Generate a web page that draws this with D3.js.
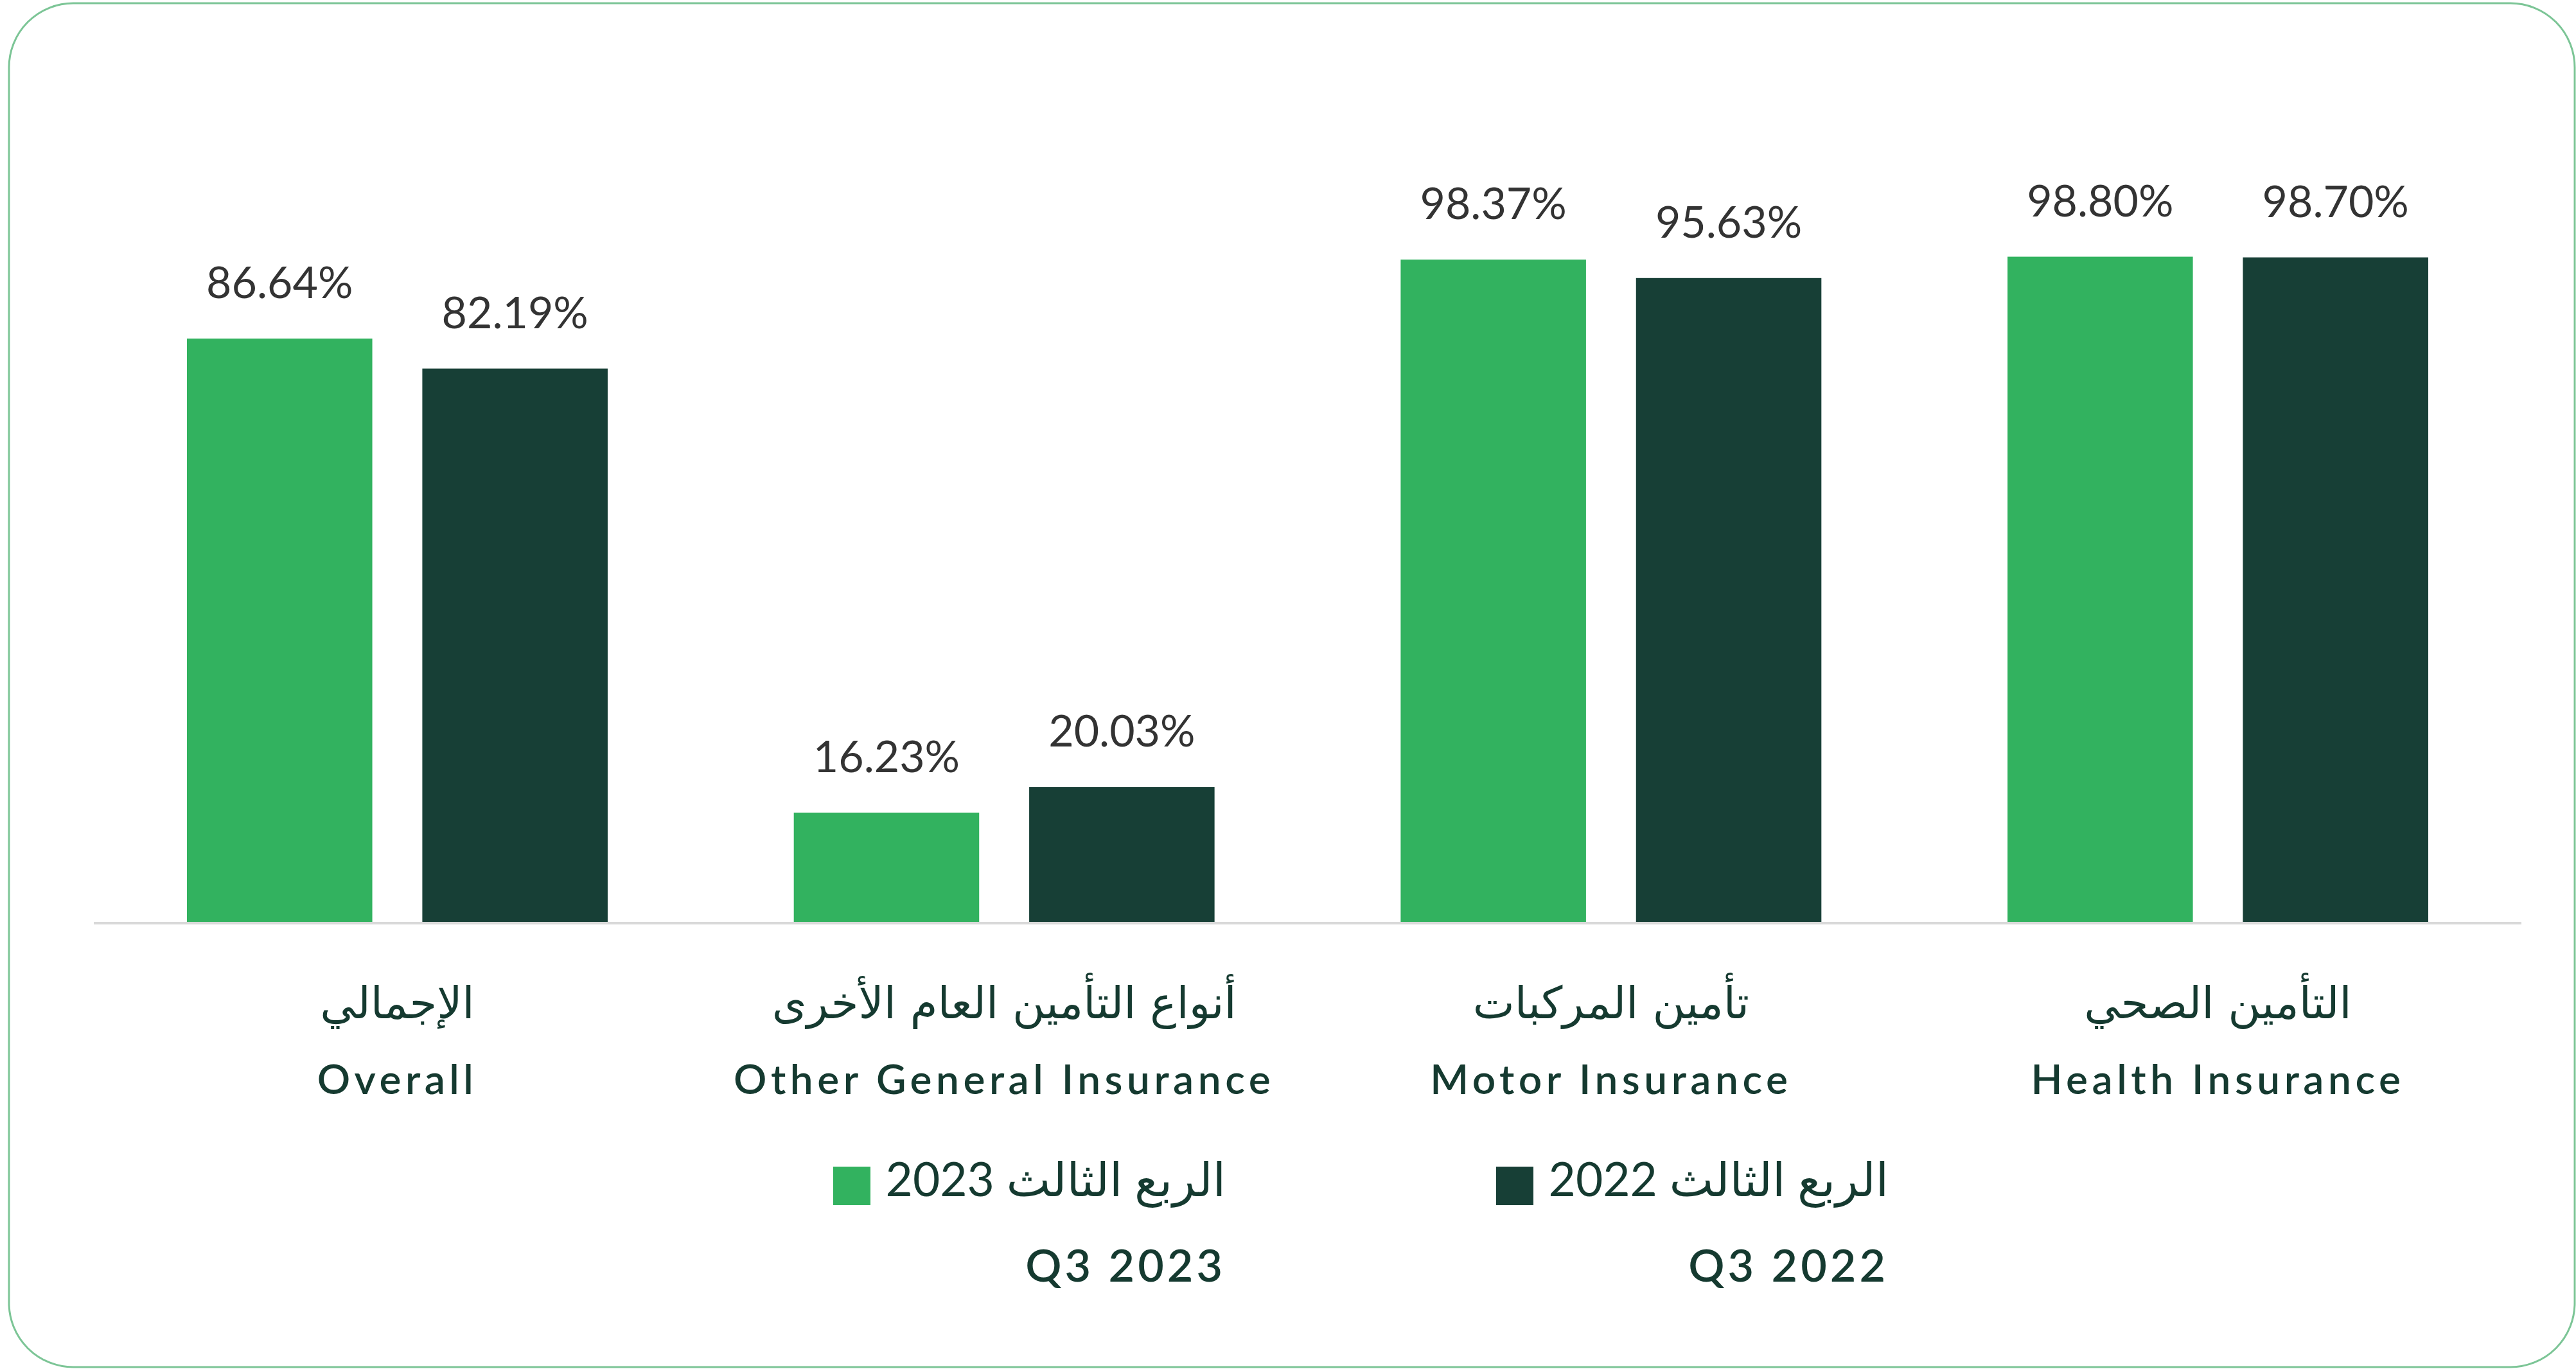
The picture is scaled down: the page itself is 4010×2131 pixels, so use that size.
<!DOCTYPE html>
<html><head><meta charset="utf-8">
<script src="https://cdn.jsdelivr.net/npm/d3@7"></script>
<style>html,body{margin:0;padding:0;background:#fff;} svg{display:block;}</style>
</head><body><svg id="chart" width="4010" height="2131"></svg>
<script>
// ---- data ----
const categoriesEn = ["Overall", "Other General Insurance", "Motor Insurance", "Health Insurance"];
const categoriesAr = ["الإجمالي", "أنواع التأمين العام الأخرى", "تأمين المركبات", "التأمين الصحي"];
const seriesKeys = ["Q3 2023", "Q3 2022"];
const seriesAr = ["الربع الثالث 2023", "الربع الثالث 2022"];
const q3_2023 = [86.64, 16.23, 98.37, 98.80];
const q3_2022 = [82.19, 20.03, 95.63, 98.70];

// ---- style ----
const colors = {"Q3 2023": "#32b25f", "Q3 2022": "#173f36"};
const labelColor = "#153a30";
const valueColor = "#333333";
const latin = "Lato, 'DejaVu Sans', sans-serif";
const arabic = "'DejaVu Sans', 'Noto Sans', sans-serif";

const svg = d3.select("#chart");

// frame
svg.append("rect")
  .attr("x", 14).attr("y", 5).attr("width", 3994).attr("height", 2123)
  .attr("rx", 100).attr("ry", 100)
  .attr("fill", "#ffffff").attr("stroke", "#7cc596").attr("stroke-width", 3);

const table = categoriesEn.map((c, i) => ({
  cat: c, ar: categoriesAr[i],
  values: [{key: seriesKeys[0], v: q3_2023[i]}, {key: seriesKeys[1], v: q3_2022[i]}]
}));

const x0 = d3.scaleBand().domain(categoriesEn).range([146, 3925])
  .paddingInner(0.3067).paddingOuter(0.1535);
const x1 = d3.scaleBand().domain(seriesKeys).range([0, x0.bandwidth()]).paddingInner(0.2125);
const y = d3.scaleLinear().domain([0, 100]).range([1435, 387]);
const fmt = v => d3.format(".2f")(v) + "%";

// bars
const g = svg.append("g").selectAll("g").data(table).join("g")
  .attr("transform", d => `translate(${x0(d.cat)},0)`);

g.selectAll("rect").data(d => d.values).join("rect")
  .attr("x", d => x1(d.key))
  .attr("y", d => y(d.v))
  .attr("width", x1.bandwidth())
  .attr("height", d => y(0) - y(d.v))
  .attr("fill", d => colors[d.key]);

g.selectAll("text.val").data(d => d.values).join("text")
  .attr("class", "val")
  .attr("x", d => x1(d.key) + x1.bandwidth() / 2)
  .attr("y", d => y(d.v) - 63)
  .attr("text-anchor", "middle")
  .attr("font-family", latin)
  .attr("font-size", 68)
  .attr("fill", valueColor)
  .text(d => fmt(d.v));

// baseline
svg.append("line")
  .attr("x1", x0.range()[0]).attr("x2", x0.range()[1])
  .attr("y1", y(0) + 2).attr("y2", y(0) + 2)
  .attr("stroke", "#d9d9d9").attr("stroke-width", 4);

// category labels
const xAxis = d3.axisBottom(x0).tickSize(0).tickPadding(0);
const ax = svg.append("g").attr("transform", `translate(0,${y(0)})`).call(xAxis);
ax.select(".domain").remove();
ax.selectAll(".tick text").remove();
ax.selectAll(".tick").each(function(c, i) {
  const t = d3.select(this);
  t.append("text")
    .attr("y", 150)
    .attr("text-anchor", "middle")
    .attr("direction", "rtl")
    .attr("font-family", arabic)
    .attr("font-size", 69)
    .attr("fill", labelColor)
    .text(categoriesAr[i]);
  t.append("text")
    .attr("y", 268)
    .attr("text-anchor", "middle")
    .attr("font-family", latin)
    .attr("font-weight", 600)
    .attr("font-size", 64)
    .attr("letter-spacing", 6.5)
    .attr("fill", labelColor)
    .text(c);
});

// legend
const legendRight = [1908, 2940];
const leg = svg.append("g").selectAll("g").data(seriesKeys).join("g");
leg.append("rect")
  .attr("x", (d, i) => legendRight[i] - 611)
  .attr("y", 1816).attr("width", 58).attr("height", 60)
  .attr("fill", d => colors[d]);
leg.append("text")
  .attr("x", (d, i) => legendRight[i])
  .attr("y", 1862)
  .attr("direction", "rtl")
  .attr("text-anchor", "start")
  .attr("font-family", "Lato, 'DejaVu Sans', sans-serif")
  .attr("font-size", 73)
  .attr("fill", labelColor)
  .text((d, i) => seriesAr[i]);
leg.append("text")
  .attr("x", (d, i) => legendRight[i])
  .attr("y", 1995)
  .attr("text-anchor", "end")
  .attr("font-family", latin)
  .attr("font-weight", 600)
  .attr("font-size", 70)
  .attr("letter-spacing", 5)
  .attr("fill", labelColor)
  .text(d => d);
</script>
</body></html>
